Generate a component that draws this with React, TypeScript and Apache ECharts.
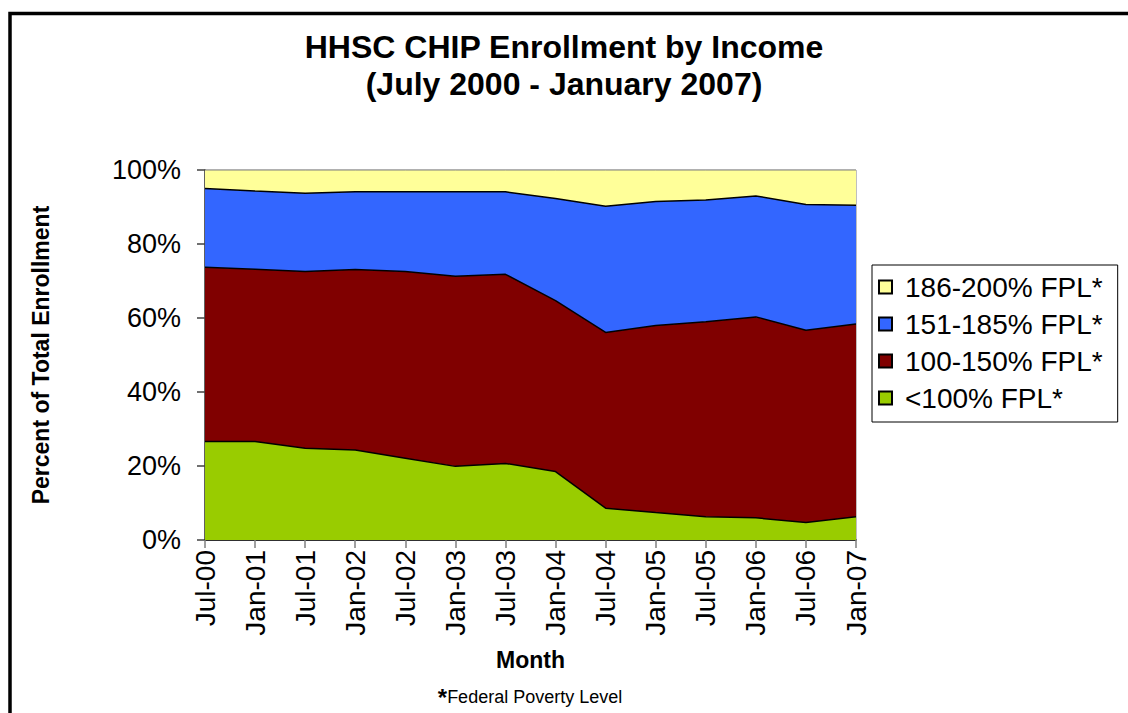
import React, { useEffect, useRef } from "react";
import * as echarts from "echarts";

// Enrollment months, July 2000 to January 2007
const months = [
  "Jul-00", "Jan-01", "Jul-01", "Jan-02", "Jul-02", "Jan-03", "Jul-03",
  "Jan-04", "Jul-04", "Jan-05", "Jul-05", "Jan-06", "Jul-06", "Jan-07",
];

// Share of total enrollment (%) for each income band, stacked bottom to top
const below100 = [26.6, 26.6, 24.8, 24.3, 22.1, 19.9, 20.7, 18.5, 8.6, 7.4, 6.3, 6.0, 4.7, 6.3];
const fpl100to150 = [47.1, 46.6, 47.8, 48.8, 50.5, 51.4, 51.1, 46.2, 47.5, 50.6, 52.7, 54.3, 52.0, 52.1];
const fpl151to185 = [21.3, 21.1, 21.1, 21.0, 21.5, 22.8, 22.3, 27.6, 34.1, 33.5, 32.9, 32.7, 34.0, 32.1];
const fpl186to200 = [5.0, 5.7, 6.3, 5.9, 5.9, 5.9, 5.9, 7.7, 9.8, 8.5, 8.1, 7.0, 9.3, 9.5];

const yTicks = [0, 20, 40, 60, 80, 100];

const FONT = "'Liberation Sans', Arial, Helvetica, sans-serif";

export default function App() {
  const ref = useRef<HTMLDivElement>(null);

  useEffect(() => {
    if (!ref.current) return;
    const chart = echarts.init(ref.current, undefined, { renderer: "svg" });

    const band = (name: string, data: number[], color: string, edge: string, edgeWidth: number) => ({
      name,
      type: "line",
      stack: "total",
      data,
      symbol: "none",
      showSymbol: false,
      lineStyle: { color: edge, width: edgeWidth },
      areaStyle: { color, opacity: 1 },
      itemStyle: { color, borderColor: "#000", borderWidth: 1 },
      emphasis: { disabled: true },
    });

    chart.setOption({
      animation: false,
      backgroundColor: "#ffffff",
      textStyle: { fontFamily: FONT },
      title: {
        text: "HHSC CHIP Enrollment by Income\n(July 2000 - January 2007)",
        left: "center",
        top: 23,
        textStyle: {
          fontFamily: FONT,
          fontSize: 32,
          fontWeight: "bold",
          color: "#000",
          lineHeight: 37,
        },
      },
      legend: {
        orient: "vertical",
        left: 872,
        top: 265,
        padding: [8, 15, 10, 6],
        itemGap: 9,
        itemWidth: 13,
        itemHeight: 13,
        icon: "rect",
        backgroundColor: "#fff",
        borderColor: "#000",
        borderWidth: 1,
        borderRadius: 0,
        textStyle: {
          fontFamily: FONT,
          fontSize: 28,
          color: "#000",
          lineHeight: 28,
          padding: [0, 0, 0, 8],
        },
        data: ["186-200% FPL*", "151-185% FPL*", "100-150% FPL*", "<100% FPL*"],
      },
      grid: {
        left: 205,
        top: 170,
        width: 651,
        height: 370,
        show: true,
        borderColor: "#808080",
        borderWidth: 1,
        backgroundColor: "transparent",
      },
      xAxis: {
        type: "category",
        data: months,
        boundaryGap: false,
        name: "Month",
        nameLocation: "middle",
        nameGap: 108,
        nameTextStyle: { fontFamily: FONT, fontSize: 23, fontWeight: "bold", color: "#000" },
        axisLine: { show: true, lineStyle: { color: "#000", width: 1.5 } },
        axisTick: { show: true, length: 8, lineStyle: { color: "#808080", width: 1.5 } },
        axisLabel: {
          rotate: 90,
          margin: 10,
          fontFamily: FONT,
          fontSize: 28,
          color: "#000",
          interval: 0,
        },
        splitLine: { show: false },
      },
      yAxis: {
        type: "value",
        min: yTicks[0],
        max: yTicks[yTicks.length - 1],
        interval: 20,
        name: "Percent of Total Enrollment",
        nameLocation: "middle",
        nameRotate: 90,
        nameGap: 153,
        nameTextStyle: { fontFamily: FONT, fontSize: 23, fontWeight: "bold", color: "#000" },
        axisLine: { show: true, lineStyle: { color: "#404040", width: 1.5 } },
        axisTick: { show: true, length: 8, lineStyle: { color: "#404040", width: 1.5 } },
        axisLabel: {
          margin: 24,
          fontFamily: FONT,
          fontSize: 27,
          color: "#000",
          formatter: "{value}%",
        },
        splitLine: { show: false },
      },
      series: [
        band("<100% FPL*", below100, "#99CC00", "#000", 1.5),
        band("100-150% FPL*", fpl100to150, "#800000", "#000", 1.5),
        band("151-185% FPL*", fpl151to185, "#3366FF", "#000", 1.5),
        band("186-200% FPL*", fpl186to200, "#FFFF99", "#808080", 1),
      ],
      graphic: [
        {
          type: "rect",
          shape: { x: 10, y: 13.5, width: 1200, height: 800 },
          style: { fill: "none", stroke: "#000", lineWidth: 3.5 },
          silent: true,
        },
        {
          type: "text",
          x: 530,
          y: 697,
          style: {
            text: "{a|*}{b|Federal Poverty Level}",
            align: "center",
            verticalAlign: "middle",
            rich: {
              a: { fontFamily: FONT, fontSize: 24, fontWeight: "bold", fill: "#000", verticalAlign: "top" },
              b: { fontFamily: FONT, fontSize: 18, fill: "#000" },
            },
          },
        },
      ],
    });

    return () => chart.dispose();
  }, []);

  return (
    <div
      ref={ref}
      style={{ position: "fixed", left: 0, top: 0, width: 1128, height: 713 }}
    />
  );
}
